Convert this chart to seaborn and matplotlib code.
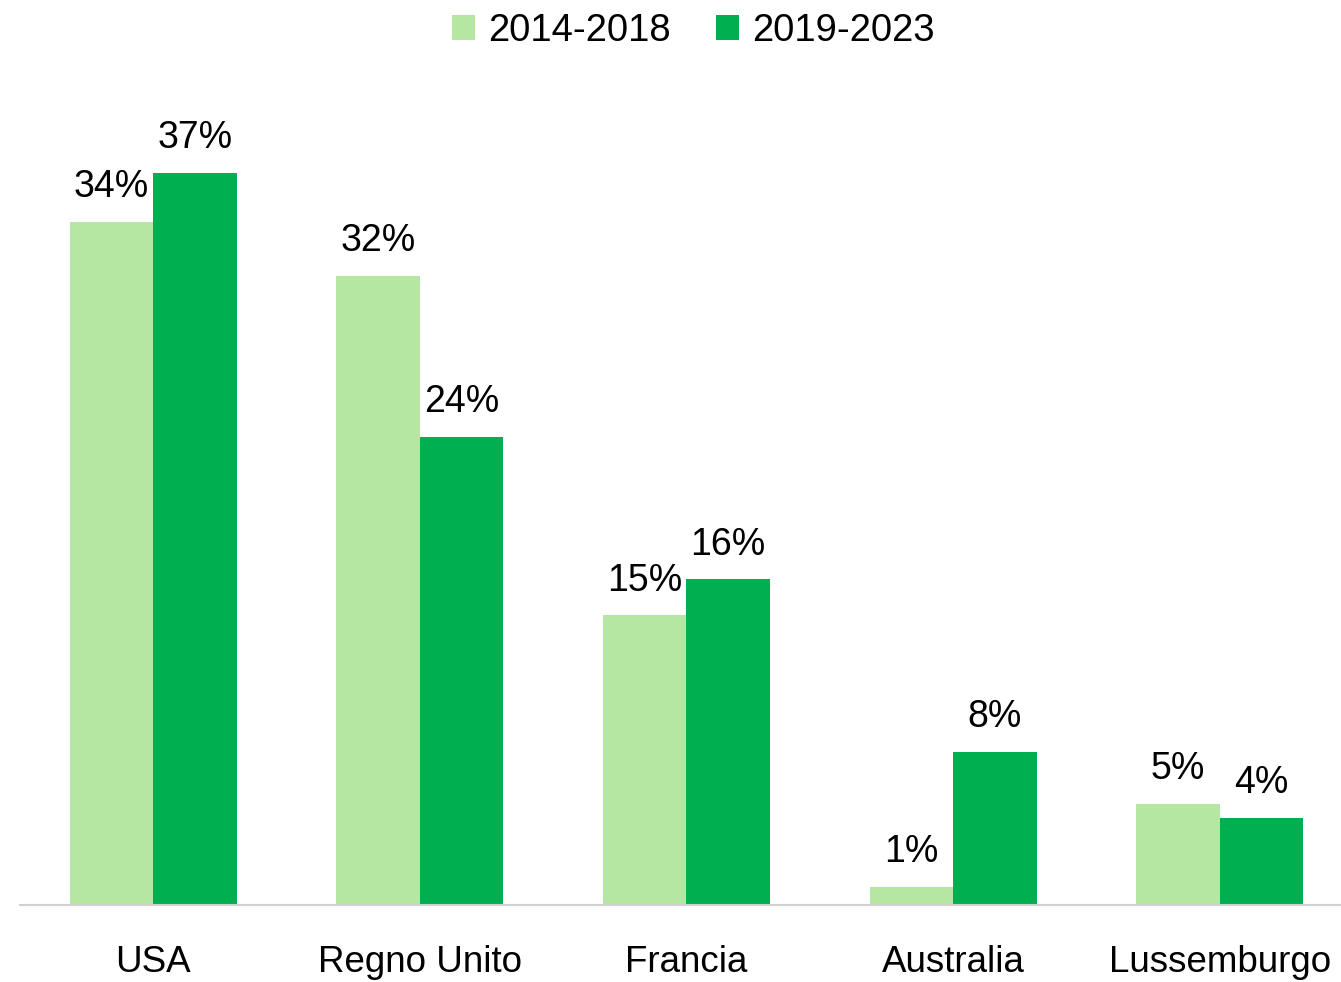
import pandas as pd
import matplotlib
matplotlib.use("Agg")
import matplotlib.pyplot as plt
import seaborn as sns
from matplotlib import font_manager

# data (share of total, %)
countries = ["USA", "Regno Unito", "Francia", "Australia", "Lussemburgo"]
periods = ["2014-2018", "2019-2023"]
share_2014_2018 = [34.4, 31.7, 14.6, 0.9, 5.1]
share_2019_2023 = [36.9, 23.6, 16.4, 7.7, 4.4]

colors = ["#B5E6A2", "#00B050"]

df = pd.DataFrame({
    "country": countries * 2,
    "period": [periods[0]] * 5 + [periods[1]] * 5,
    "share": share_2014_2018 + share_2019_2023,
})

sns.set_style("white")
plt.rcParams['font.family'] = ['Liberation Sans', 'DejaVu Sans']
plt.rcParams['text.color'] = "black"
plt.rcParams['xtick.color'] = "black"

fig = plt.figure(figsize=(13.41, 9.82), dpi=100)
ax = fig.add_axes([20 / 1341, 77 / 982, 1333 / 1341, 794 / 982])

sns.barplot(data=df, x="country", y="share", hue="period", palette=colors,
            width=0.626, saturation=1, linewidth=0, ax=ax)

ax.set_ylim(0, 40)
ax.set_xlim(-0.5, 4.5)
ax.set_xlabel("")
ax.set_ylabel("")
ax.set_yticks([])
sns.despine(ax=ax, left=True, top=True, right=True)
ax.spines["bottom"].set_color("#d0d0d0")
ax.spines["bottom"].set_linewidth(1.5)

# axis labels in a narrower face if there is one
names = {f.name for f in font_manager.fontManager.ttflist}
tick_family = "Liberation Sans Narrow" if "Liberation Sans Narrow" in names else "Liberation Sans"
ax.tick_params(axis="x", length=0, pad=29)
for lbl in ax.get_xticklabels():
    lbl.set_fontsize(26.5)
    lbl.set_family(tick_family)
    lbl.set_color("black")

for cont in ax.containers:
    ax.bar_label(cont, labels=[f"{v:.0f}%" for v in cont.datavalues],
                 fontsize=27, padding=12, color="black")

handles, labels = ax.get_legend_handles_labels()
ax.get_legend().remove()
fig.legend(handles, labels, loc="center", bbox_to_anchor=(0.517, 1 - 31 / 982),
           ncol=2, frameon=False, fontsize=27.5, handlelength=0.6, handleheight=0.6,
           handletextpad=0.34, columnspacing=1.18)

fig.savefig("out.png", dpi=100)
